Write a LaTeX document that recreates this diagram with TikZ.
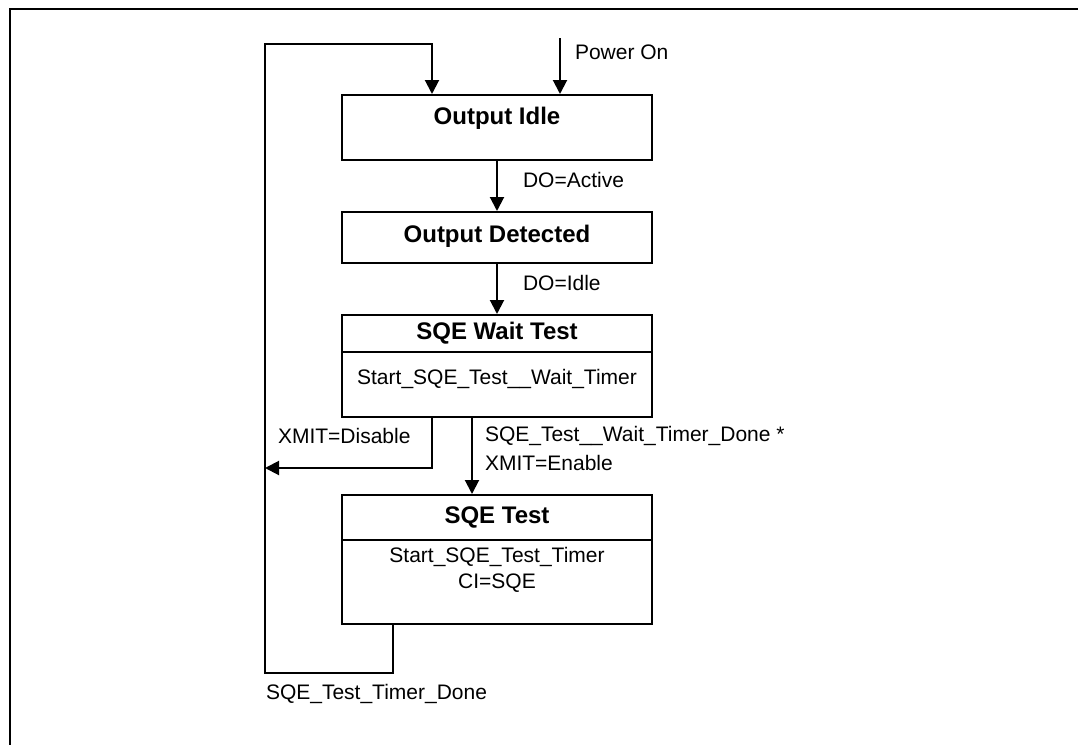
\documentclass[tikz,border=0pt]{standalone}
\usepackage{fontspec}
\setmainfont{Liberation Sans}
\usetikzlibrary{arrows.meta}
\begin{document}
\begin{tikzpicture}[x=0.5pt,y=-0.5pt,line width=1pt,
  flow/.style={-{Triangle[length=7pt,width=7pt]}},
  statebox/.style={draw,rectangle,minimum width=155pt,inner sep=0pt,anchor=north},
  title/.style={inner sep=0pt,font=\fontsize{12}{14}\selectfont\bfseries},
  body/.style={inner sep=0pt,font=\fontsize{10.5}{13}\selectfont,align=center},
  cond/.style={inner sep=0pt,anchor=west,font=\fontsize{10.5}{12.6}\selectfont}]
\useasboundingbox (0,0) rectangle (1078,745);
\draw[line width=1.4pt] (10,745) -- (10,9) -- (1078,9);

\node[statebox,minimum height=32.5pt] (idle) at (497,94) {};
\node[statebox,minimum height=25.5pt] (detected) at (497,211) {};
\node[statebox,minimum height=51pt] (wait) at (497,314) {};
\node[statebox,minimum height=64.5pt] (sqetest) at (497,494) {};
\draw (342,352) -- (652,352);
\draw (342,540) -- (652,540);

\node[title] (idlet) at (497,118) {Output Idle};
\node[title] (detectedt) at (497,236) {Output Detected};
\node[title] (waitt) at (497,333) {SQE Wait Test};
\node[body] (waitb) at (497,379) {Start\_SQE\_Test\_\_Wait\_Timer};
\node[title] (sqetestt) at (497,517) {SQE Test};
\node[body] (sqetestb) at (497,570) {Start\_SQE\_Test\_Timer\\CI=SQE};

\coordinate (pwr) at (560,38);
\coordinate (loopbl) at (265,673);
\coordinate (looptl) at (265,44);
\coordinate (disend) at (265,468);

\draw[flow] (pwr) -- (pwr |- idle.north);
\draw[flow] (idle.south) -- (detected.north);
\draw[flow] (detected.south) -- (wait.north);
\draw[flow] ([xshift=-12.5pt]wait.south) -- ([xshift=-12.5pt]sqetest.north);
\draw[flow] ([xshift=-32.5pt]wait.south) |- (disend);
\draw[flow] ([xshift=-52pt]sqetest.south) |- (loopbl) -- (looptl) -| ([xshift=-32.5pt]idle.north);

\node[cond] (pwrl) at (574,52) {Power On};
\node[cond] (activel) at (522,180) {DO=Active};
\node[cond] (idlel) at (522,283) {DO=Idle};
\node[cond] (disablel) at (277,436) {XMIT=Disable};
\node[cond] (donel) at (484,436) {SQE\_Test\_\_Wait\_Timer\_Done *};
\node[cond] (enablel) at (484,463) {XMIT=Enable};
\node[cond] (timerl) at (265,694) {SQE\_Test\_Timer\_Done};
\end{tikzpicture}
\end{document}
